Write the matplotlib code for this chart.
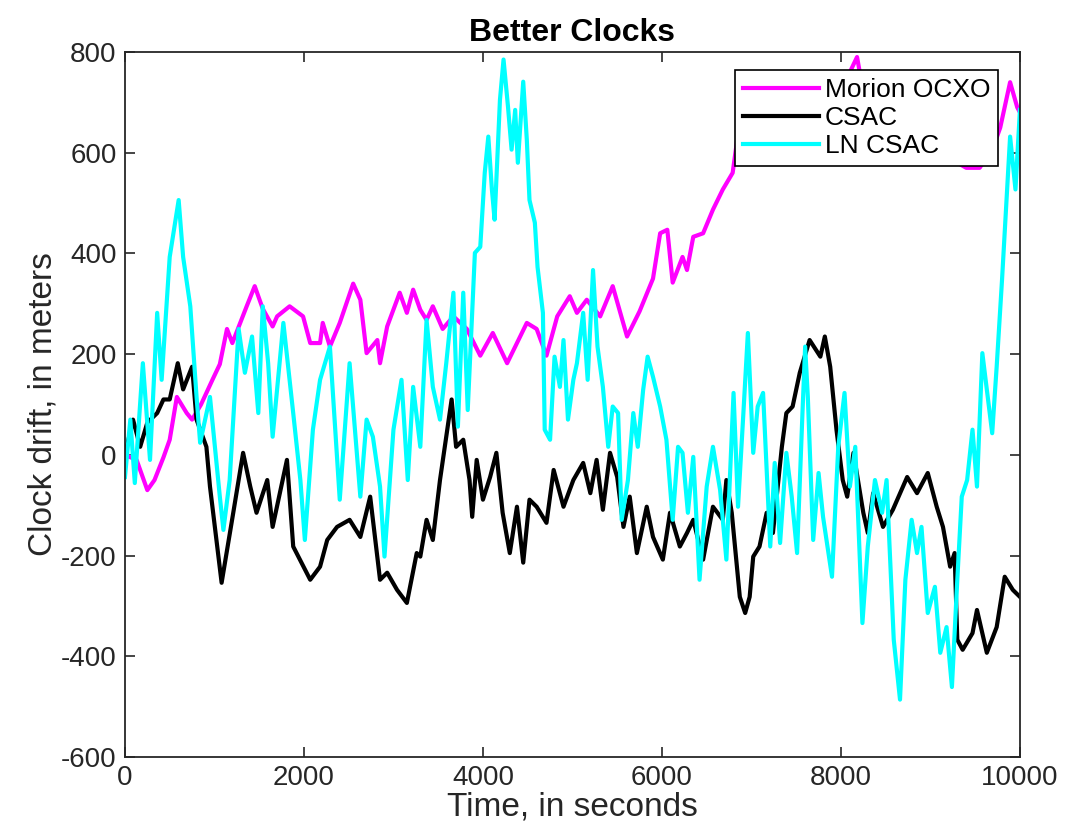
import matplotlib
matplotlib.use("Agg")
import matplotlib.pyplot as plt

# -----------------------------
# DATA
# -----------------------------
morion_t = [0, 130, 250, 330, 430, 500, 580, 690, 750, 850, 980, 1060, 1140, 1200,
            1360, 1450, 1540, 1650, 1700, 1840, 1990, 2070, 2180, 2210, 2290, 2400,
            2550, 2630, 2700, 2820, 2850, 2930, 3070, 3150, 3220, 3300, 3370, 3440,
            3550, 3670, 3820, 3970, 4110, 4270, 4490, 4600, 4710, 4830, 4970, 5050,
            5160, 5310, 5450, 5610, 5750, 5900, 5980, 6060, 6120, 6230, 6280, 6350,
            6460, 6570, 6680, 6790, 6840, 7000, 7300, 7600, 7900, 8100, 8180, 8250,
            8450, 8660, 8900, 9100, 9250, 9400, 9550, 9700, 9780, 9890, 9970, 10000]
morion_v = [0, -10, -70, -50, -5, 30, 115, 83, 70, 100, 150, 180, 250, 222,
            295, 335, 290, 255, 275, 295, 275, 222, 222, 262, 215, 262,
            340, 308, 202, 228, 182, 255, 322, 282, 328, 288, 268, 295,
            250, 275, 250, 197, 242, 182, 262, 250, 197, 275, 315, 282,
            308, 275, 335, 235, 285, 350, 440, 447, 342, 393, 367, 433,
            440, 487, 527, 560, 625, 640, 680, 720, 740, 760, 790, 720,
            650, 585, 600, 620, 585, 570, 570, 610, 650, 740, 690, 680]

csac_t = [0, 90, 170, 250, 360, 430, 500, 590, 650, 750, 800, 910, 950, 1080, 1210,
          1320, 1400, 1470, 1590, 1650, 1810, 1880, 2070, 2180, 2260, 2370, 2510,
          2630, 2740, 2850, 2930, 3040, 3150, 3260, 3300, 3370, 3440, 3520, 3650,
          3700, 3780, 3850, 3880, 3930, 4000, 4080, 4150, 4220, 4300, 4380, 4450,
          4520, 4600, 4710, 4790, 4900, 5010, 5120, 5200, 5270, 5340, 5420, 5500,
          5570, 5640, 5720, 5830, 5900, 6010, 6090, 6200, 6280, 6350, 6460, 6570,
          6680, 6720, 6780, 6870, 6930, 6980, 7020, 7090, 7170, 7240, 7340, 7390,
          7460, 7540, 7650, 7770, 7820, 7880, 7950, 8020, 8070, 8140, 8250, 8300,
          8360, 8470, 8580, 8740, 8850, 8970, 9070, 9140, 9220, 9270, 9300, 9360,
          9470, 9520, 9630, 9740, 9830, 9920, 10000]
csac_v = [0, 70, 16, 64, 83, 110, 110, 182, 130, 175, 70, 16, -63, -254, -115,
          4, -63, -115, -50, -143, -10, -182, -248, -222, -169, -143, -129,
          -163, -83, -248, -234, -268, -294, -195, -202, -129, -169, -50, 110,
          16, 30, -50, -123, -10, -89, -44, 4, -115, -195, -103, -214,
          -89, -103, -135, -30, -103, -50, -16, -76, -10, -109, 4, -44,
          -143, -83, -195, -103, -163, -208, -115, -182, -155, -129, -208, -103,
          -129, -50, -115, -282, -314, -282, -202, -182, -115, -155, 16, 83,
          96, 163, 228, 195, 235, 175, 50, -50, -83, 4, -115, -155,
          -76, -143, -109, -44, -76, -36, -103, -143, -222, -195, -367, -387,
          -354, -308, -393, -342, -242, -268, -282]

ln_t = [0, 60, 110, 200, 280, 360, 410, 500, 600, 650, 730, 800, 840, 950, 1060,
        1100, 1170, 1270, 1340, 1420, 1490, 1540, 1600, 1650, 1770, 1880, 1960,
        2010, 2100, 2180, 2290, 2400, 2510, 2630, 2700, 2770, 2850, 2900, 3000,
        3090, 3160, 3220, 3300, 3370, 3440, 3520, 3590, 3670, 3720, 3780, 3830,
        3910, 3970, 4020, 4060, 4100, 4130, 4190, 4230, 4280, 4320, 4360, 4390,
        4450, 4490, 4520, 4580, 4610, 4670, 4690, 4750, 4800, 4860, 4900, 4950,
        5010, 5050, 5120, 5170, 5230, 5280, 5340, 5400, 5450, 5510, 5550, 5620,
        5680, 5730, 5790, 5840, 5900, 5980, 6050, 6120, 6180, 6230, 6290, 6350,
        6420, 6500, 6570, 6650, 6720, 6800, 6850, 6910, 6960, 7020, 7070, 7130,
        7210, 7260, 7320, 7390, 7450, 7510, 7570, 7600, 7630, 7690, 7750, 7800,
        7900, 7970, 8040, 8100, 8160, 8240, 8300, 8380, 8460, 8510, 8590, 8660,
        8720, 8790, 8850, 8900, 8970, 9050, 9110, 9180, 9240, 9300, 9350, 9410,
        9470, 9520, 9580, 9630, 9690, 9740, 9800, 9890, 9950, 10000]
ln_v = [-44, 70, -56, 182, -10, 282, 149, 393, 506, 393, 295, 115, 24, 115, -83,
        -149, -50, 250, 163, 235, 83, 295, 182, 36, 262, 83, -50,
        -169, 50, 149, 215, -89, 182, -83, 70, 36, -63, -202, 50,
        149, -50, 135, 16, 268, 135, 70, 182, 322, 56, 322, 89,
        401, 413, 560, 632, 527, 467, 705, 785, 691, 606, 685, 580,
        741, 626, 506, 461, 373, 282, 50, 30, 195, 135, 228, 70,
        149, 182, 282, 149, 367, 215, 135, 16, 96, 83, -129, -50,
        83, 16, 129, 195, 155, 96, 30, -129, 16, 4, -115, -4,
        -248, -63, 16, -70, -208, 123, -103, 83, 242, 4, 96, 123,
        -182, -16, -175, 4, -83, -195, 83, 215, 115, -169, -36, -123,
        -242, 16, 123, -63, 16, -334, -182, -50, -115, -50, -367, -486,
        -248, -129, -195, -143, -314, -262, -393, -342, -461, -248, -83, -50,
        50, -63, 202, 129, 43, 175, 348, 632, 527, 685]

labels = ["Morion OCXO", "CSAC", "LN CSAC"]

# -----------------------------
# PLOT
# -----------------------------
plt.rcParams["font.family"] = ["Liberation Sans", "DejaVu Sans"]
plt.rcParams["axes.unicode_minus"] = False

fig = plt.figure(figsize=(10.68, 8.33), dpi=100)
ax = fig.add_axes([0.117, 0.0912, 0.838, 0.8464])

ax.plot(morion_t, morion_v, color="#ff00ff", lw=3, label=labels[0])
ax.plot(csac_t, csac_v, color="black", lw=3, label=labels[1])
ax.plot(ln_t, ln_v, color="#00ffff", lw=3, label=labels[2])

ax.set_xlim(0, 10000)
ax.set_ylim(-600, 800)
ax.set_xticks(range(0, 10001, 2000))
ax.set_yticks(range(-600, 801, 200))
ax.tick_params(direction="in", length=7, width=1.2, top=True, right=True,
               labelsize=20, colors="#262626", pad=6)
for s in ax.spines.values():
    s.set_linewidth(1.3)
    s.set_color("#262626")

ax.set_title("Better Clocks", fontsize=23, fontweight="bold", pad=8)
ax.set_xlabel("Time, in seconds", fontsize=24, color="#262626", labelpad=0)
ax.set_ylabel("Clock drift, in meters", fontsize=24, color="#262626", labelpad=2)

leg = ax.legend(loc="upper right", bbox_to_anchor=(0.9754, 0.9745), borderaxespad=0,
                fontsize=19, frameon=True, fancybox=False, framealpha=1,
                edgecolor="black", handlelength=2.9, handletextpad=0.2,
                labelspacing=0.15, borderpad=0.3)
leg.get_frame().set_linewidth(1.2)

fig.savefig("out.png", dpi=100)
